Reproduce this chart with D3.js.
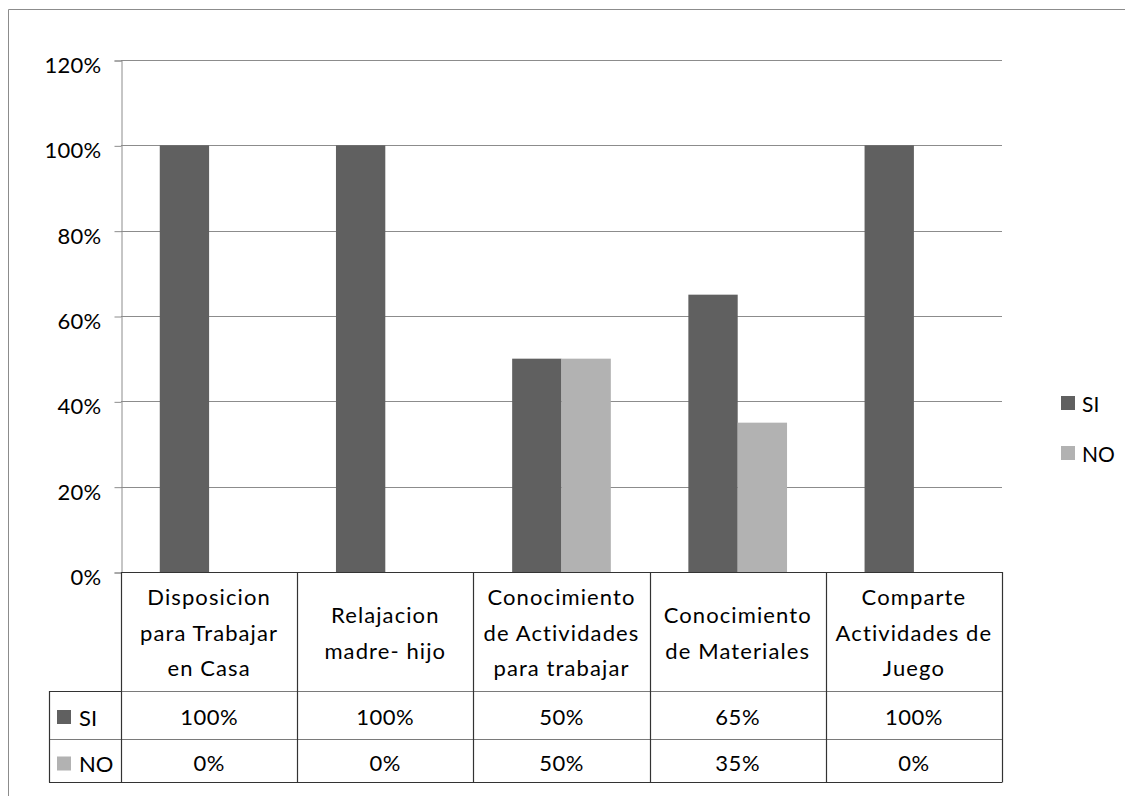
<!DOCTYPE html>
<html>
<head>
<meta charset="utf-8">
<script src="https://cdn.jsdelivr.net/npm/d3@7"></script>
<style>
  html, body { margin: 0; padding: 0; background: #fff; }
  svg text { font-family: Lato, "Noto Sans", sans-serif; fill: #000; }
</style>
</head>
<body>
<svg id="chart" width="1125" height="796"></svg>
<script>
// Category labels (line breaks as shown in the data table header)
const categories = [
  "Disposicion\npara Trabajar\nen Casa",
  "Relajacion\nmadre- hijo",
  "Conocimiento\nde Actividades\npara trabajar",
  "Conocimiento\nde Materiales",
  "Comparte\nActividades de\nJuego"
];
const seriesNames = ["SI", "NO"];
const siValues = [1.00, 1.00, 0.50, 0.65, 1.00];
const noValues = [0.00, 0.00, 0.50, 0.35, 0.00];
const yTicks = [0, 0.2, 0.4, 0.6, 0.8, 1.0, 1.2];
const seriesColors = ["#606060", "#b2b2b2"];

const seriesValues = [siValues, noValues];

const svg = d3.select("#chart");

// Plot frame
const plot = { left: 121, right: 1002, top: 60, bottom: 572 };
const table = { headerBottom: 691, siBottom: 739, noBottom: 782, labelLeft: 49 };
const fontSize = 22;

// Outer chart border (top and left edges visible)
svg.append("path")
  .attr("d", "M8.5,796 L8.5,9.5 L1125,9.5")
  .attr("fill", "none")
  .attr("stroke", "#8c8c8c")
  .attr("stroke-width", 1);

const x = d3.scaleBand()
  .domain(d3.range(categories.length))
  .range([plot.left, plot.right])
  .paddingInner(0).paddingOuter(0);

const bw = x.bandwidth();
const barW = bw * 0.28;
const x1 = d3.scaleBand()
  .domain(seriesNames)
  .range([bw / 2 - barW, bw / 2 + barW]);

const y = d3.scaleLinear()
  .domain([0, 1.2])
  .range([plot.bottom, plot.top]);

const pct = d3.format(".0%");

// Gridlines
svg.append("g")
  .selectAll("line")
  .data(yTicks.filter(d => d > 0))
  .join("line")
  .attr("x1", plot.left).attr("x2", plot.right)
  .attr("y1", d => Math.round(y(d)) + 0.5)
  .attr("y2", d => Math.round(y(d)) + 0.5)
  .attr("stroke", "#8c8c8c")
  .attr("stroke-width", 1);

// Y axis
const yAxis = svg.append("g")
  .attr("transform", `translate(${plot.left + 0.5},0.5)`)
  .call(d3.axisLeft(y).tickValues(yTicks).tickFormat(pct).tickSize(7).tickPadding(13));
yAxis.select(".domain").attr("stroke", "#8c8c8c");
yAxis.selectAll(".tick line").attr("stroke", "#8c8c8c");
yAxis.selectAll(".tick text")
  .attr("font-size", fontSize)
  .attr("dy", "0.54em")
  .attr("letter-spacing", 0.3)
  .attr("fill", "#000")
  .style("font-family", "Lato, 'Noto Sans', sans-serif");

// Bars
const groups = svg.append("g")
  .selectAll("g")
  .data(categories.map((c, i) => i))
  .join("g")
  .attr("transform", i => `translate(${x(i)},0)`);

groups.selectAll("rect")
  .data(i => seriesNames.map((s, k) => ({ s, k, v: seriesValues[k][i] })))
  .join("rect")
  .attr("x", d => x1(d.s))
  .attr("width", x1.bandwidth())
  .attr("y", d => y(d.v))
  .attr("height", d => y(0) - y(d.v))
  .attr("fill", d => seriesColors[d.k]);

// Data table
const tg = svg.append("g");
const line = (x1_, y1_, x2_, y2_, color) =>
  tg.append("line")
    .attr("x1", x1_).attr("y1", y1_).attr("x2", x2_).attr("y2", y2_)
    .attr("stroke", color).attr("stroke-width", 1.2);

// baseline of the plot / top of table
line(plot.left, plot.bottom + 0.5, plot.right, plot.bottom + 0.5, "#333");
// horizontal row separators
line(plot.left, table.headerBottom + 0.5, plot.right, table.headerBottom + 0.5, "#7a7a7a");
line(table.labelLeft, table.headerBottom + 0.5, plot.left, table.headerBottom + 0.5, "#333");
line(table.labelLeft, table.siBottom + 0.5, plot.right, table.siBottom + 0.5, "#7a7a7a");
line(table.labelLeft, table.noBottom + 0.5, plot.right, table.noBottom + 0.5, "#333");
// left edge of the legend column
line(table.labelLeft + 0.5, table.headerBottom, table.labelLeft + 0.5, table.noBottom + 0.5, "#333");
// column separators
d3.range(categories.length + 1).forEach(i => {
  const xx = i < categories.length ? x(i) : plot.right;
  line(Math.round(xx) + 0.5, plot.bottom, Math.round(xx) + 0.5, table.noBottom + 0.5, "#333");
});

// Header labels
const headerMid = 633;
const lh = 35.5;
categories.forEach((c, i) => {
  const lines = c.split("\n");
  const t = tg.append("text")
    .attr("text-anchor", "middle")
    .attr("font-size", fontSize)
    .attr("letter-spacing", 1.1);
  lines.forEach((ln, j) => {
    t.append("tspan")
      .attr("x", x(i) + bw / 2)
      .attr("y", headerMid + (j - (lines.length - 1) / 2) * lh)
      .attr("dy", "0.36em")
      .text(ln);
  });
});

// Value rows with legend keys
const rowMids = [(table.headerBottom + table.siBottom) / 2 + 2, (table.siBottom + table.noBottom) / 2 + 3];
seriesNames.forEach((s, k) => {
  tg.append("rect")
    .attr("x", 57).attr("y", rowMids[k] - 7)
    .attr("width", 14).attr("height", 14)
    .attr("fill", seriesColors[k]);
  tg.append("text")
    .attr("x", 79).attr("y", rowMids[k] + 1)
    .attr("dy", "0.36em")
    .attr("font-size", fontSize)
    .text(s);
  seriesValues[k].forEach((v, i) => {
    tg.append("text")
      .attr("x", x(i) + bw / 2)
      .attr("y", rowMids[k])
      .attr("dy", "0.36em")
      .attr("text-anchor", "middle")
      .attr("font-size", fontSize)
      .attr("letter-spacing", 0.5)
      .text(pct(v));
  });
});

// Legend
const legend = svg.append("g").attr("transform", "translate(1061,396)");
seriesNames.forEach((s, k) => {
  const g = legend.append("g").attr("transform", `translate(0,${k * 50})`);
  g.append("rect").attr("width", 14).attr("height", 14).attr("fill", seriesColors[k]);
  g.append("text").attr("x", 21).attr("y", 8).attr("dy", "0.36em")
    .attr("font-size", 21).text(s);
});
</script>
</body>
</html>
